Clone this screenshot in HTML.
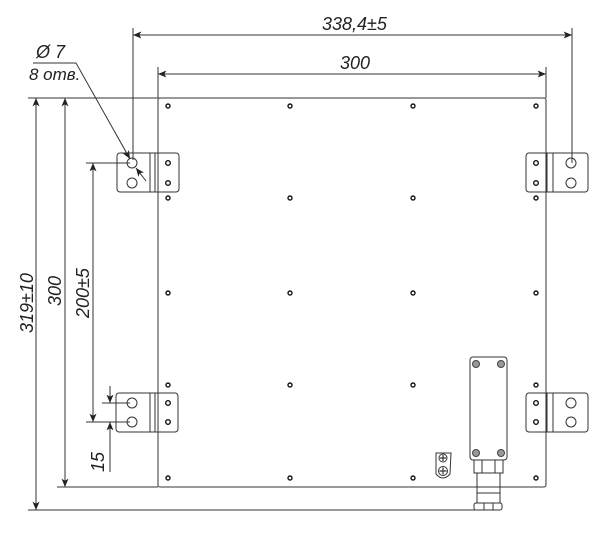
<!DOCTYPE html>
<html><head><style>
html,body{margin:0;padding:0;background:#fff;}
svg{display:block}
text{font-family:"Liberation Sans Narrow","Liberation Sans",sans-serif;font-style:italic;fill:#222;}
</style></head><body>
<svg width="600" height="535" viewBox="0 0 600 535" xmlns="http://www.w3.org/2000/svg">
<defs>
<marker id="a" viewBox="0 0 12 10" refX="12" refY="5" markerWidth="12" markerHeight="7" orient="auto-start-reverse" markerUnits="userSpaceOnUse"><path d="M0,0 L12,5 L0,10 L3,5 z" fill="#222"/></marker>
</defs>
<g stroke="#333" stroke-width="1" fill="none">
<rect x="158" y="98" width="388" height="389" rx="2"/>
<line x1="28" y1="98" x2="158" y2="98"/>
<line x1="57" y1="487" x2="158" y2="487"/>
<line x1="28" y1="510" x2="475" y2="510"/>
<line x1="133" y1="28" x2="133" y2="160"/>
<line x1="572" y1="28" x2="572" y2="163"/>
<line x1="133" y1="35" x2="572" y2="35" marker-start="url(#a)" marker-end="url(#a)"/>
<line x1="158" y1="67" x2="158" y2="98"/>
<line x1="546" y1="67" x2="546" y2="98"/>
<line x1="158" y1="74" x2="546" y2="74" marker-start="url(#a)" marker-end="url(#a)"/>
<line x1="36" y1="98" x2="36" y2="510" marker-start="url(#a)" marker-end="url(#a)"/>
<line x1="65" y1="98" x2="65" y2="487" marker-start="url(#a)" marker-end="url(#a)"/>
<line x1="86" y1="163" x2="130" y2="163"/>
<line x1="86" y1="422" x2="130" y2="422"/>
<line x1="102" y1="403" x2="130" y2="403"/>
<line x1="93" y1="163" x2="93" y2="422" marker-start="url(#a)" marker-end="url(#a)"/>
<line x1="110" y1="386" x2="110" y2="403" marker-end="url(#a)"/>
<line x1="110" y1="472" x2="110" y2="422" marker-end="url(#a)"/>
<line x1="33" y1="63" x2="76" y2="63"/>
<line x1="76" y1="63" x2="130" y2="159" marker-end="url(#a)"/>
<line x1="146" y1="181" x2="136" y2="168" marker-end="url(#a)"/>
<g>
<rect x="117" y="153" width="62" height="39" rx="3"/><line x1="150" y1="153" x2="150" y2="192"/><line x1="155" y1="153" x2="155" y2="192"/>
<circle cx="132" cy="163" r="5"/><circle cx="132" cy="183" r="5"/>
<rect x="116" y="393" width="62" height="39" rx="3"/><line x1="150" y1="393" x2="150" y2="432"/><line x1="155" y1="393" x2="155" y2="432"/>
<circle cx="132" cy="403" r="5"/><circle cx="132" cy="422" r="5"/>
<rect x="526" y="153" width="62" height="39" rx="3"/><line x1="547" y1="153" x2="547" y2="192"/><line x1="553" y1="153" x2="553" y2="192"/>
<circle cx="571" cy="163" r="5"/><circle cx="571" cy="183" r="5"/>
<rect x="526" y="393" width="62" height="39" rx="3"/><line x1="547" y1="393" x2="547" y2="432"/><line x1="553" y1="393" x2="553" y2="432"/>
<circle cx="571" cy="403" r="5"/><circle cx="571" cy="422" r="5"/>
</g>
<g stroke="#111" stroke-width="1.4">
<circle cx="168" cy="163" r="2.3"/><circle cx="168" cy="183" r="2.3"/>
<circle cx="168" cy="403" r="2.3"/><circle cx="168" cy="422" r="2.3"/>
<circle cx="536" cy="163" r="2.3"/><circle cx="536" cy="183" r="2.3"/>
<circle cx="536" cy="403" r="2.3"/><circle cx="536" cy="422" r="2.3"/>
<circle cx="168" cy="106" r="2"/><circle cx="290" cy="106" r="2"/><circle cx="413" cy="106" r="2"/><circle cx="536" cy="106" r="2"/>
<circle cx="168" cy="198" r="2"/><circle cx="290" cy="198" r="2"/><circle cx="413" cy="198" r="2"/><circle cx="536" cy="198" r="2"/>
<circle cx="168" cy="293" r="2"/><circle cx="290" cy="293" r="2"/><circle cx="413" cy="293" r="2"/><circle cx="536" cy="293" r="2"/>
<circle cx="168" cy="385" r="2"/><circle cx="290" cy="385" r="2"/><circle cx="413" cy="385" r="2"/><circle cx="536" cy="385" r="2"/>
<circle cx="168" cy="478" r="2"/><circle cx="290" cy="478" r="2"/><circle cx="413" cy="478" r="2"/><circle cx="536" cy="478" r="2"/>
</g>
<rect x="470" y="357" width="37" height="103" rx="3"/>
<g fill="#999" stroke="#444"><circle cx="476" cy="364" r="3.5"/><circle cx="501" cy="364" r="3.5"/><circle cx="476" cy="453" r="3.5"/><circle cx="501" cy="453" r="3.5"/></g>
<rect x="474" y="460" width="29" height="13"/>
<line x1="482" y1="460" x2="482" y2="473"/><line x1="495" y1="460" x2="495" y2="473"/>
<rect x="477" y="473" width="23" height="30"/>
<line x1="477" y1="493" x2="500" y2="493"/>
<rect x="474" y="503" width="28" height="7" rx="2"/>
<line x1="484" y1="503" x2="484" y2="510"/><line x1="493" y1="503" x2="493" y2="510"/>
<path d="M436,453 L451,453 L450,474 Q443,482 436,474 Z"/>
<circle cx="443" cy="458" r="4"/><circle cx="443" cy="471" r="4.5"/>
<path d="M443,455 V461 M440,458 H446 M443,467.5 V474.5 M439.5,471 H446.5" stroke-width="1.2"/>
</g>
<text x="36" y="58" font-size="18">Ø 7</text>
<text x="29" y="80" font-size="17">8 отв.</text>
<text x="322" y="30" font-size="18">338,4±5</text>
<text x="340" y="69" font-size="18">300</text>
<text transform="translate(33,333) rotate(-90)" font-size="18">319±10</text>
<text transform="translate(61,306) rotate(-90)" font-size="18">300</text>
<text transform="translate(89,318) rotate(-90)" font-size="18">200±5</text>
<text transform="translate(104,472) rotate(-90)" font-size="18">15</text>
</svg>
</body></html>
